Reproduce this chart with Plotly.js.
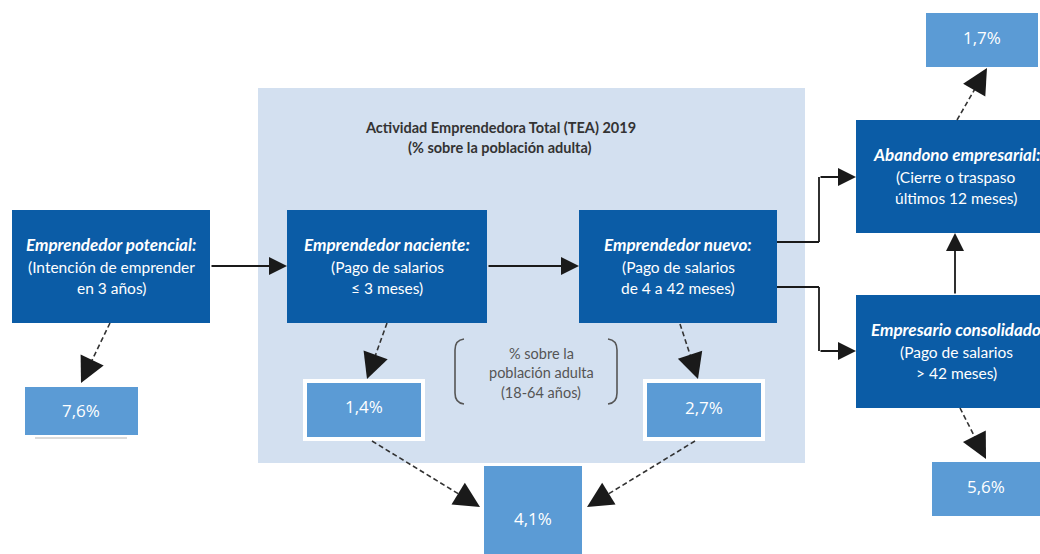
<!DOCTYPE html>
<html>
<head>
<meta charset="utf-8">
<script src="https://cdn.plot.ly/plotly-3.0.1.min.js"></script>
<style>html,body{margin:0;padding:0;background:#fff;}#chart{width:1040px;height:554px;}</style>
</head>
<body>
<div id="chart"></div>
<script>
// ---- data ----
const panelTitle = ['Actividad Emprendedora Total (TEA) 2019', '(% sobre la población adulta)'];
const stageTitles = ['Emprendedor potencial:', 'Emprendedor naciente:', 'Emprendedor nuevo:', 'Abandono empresarial:', 'Empresario consolidado'];
const stageNotes = [
  ['(Intención de emprender', 'en 3 años)'],
  ['(Pago de salarios', '≤ 3 meses)'],
  ['(Pago de salarios', 'de 4 a 42 meses)'],
  ['(Cierre o traspaso', 'últimos 12 meses)'],
  ['(Pago de salarios', '> 42 meses)']
];
const valueNames = ['Potencial', 'Naciente', 'Nuevo', 'TEA', 'Abandono', 'Consolidado'];
const values = [7.6, 1.4, 2.7, 4.1, 1.7, 5.6];
const bracketNote = ['% sobre la', 'población adulta', '(18-64 años)'];

// ---- layout geometry (pixel coordinates on axes) ----
const G = {
  panel: [258, 88, 805, 463],
  stages: [[12,210,210,323],[287,210,487,323],[579,210,777,323],[856,120,1056,233],[856,295,1056,408]],
  valBoxes: [[25,387,138,435],[305,381,423,439],[645,381,763,439],[484,466,582,556],[926,13,1038,67],[932,462,1040,516]],
  valText: [[81,410],[364,406],[704,407],[533,518],[982,37],[986,486]],
  valBorder: [false, true, true, false, false, false],
  solid: [
    [[210,266],[287,266]],
    [[487,266],[579,266]],
    [[777,242],[819,242],[819,177],[856,177]],
    [[777,287],[819,287],[819,351],[856,351]],
    [[955,295],[955,233]]
  ],
  dashed: [
    [[110,323],[81,383]],
    [[387,323],[367,379]],
    [[680,324],[698,379]],
    [[372,441],[480,507]],
    [[695,441],[587,507]],
    [[957,120],[987,68]],
    [[960,408],[986,459]]
  ]
};

const dark = '#0b5ca6', light = '#5b9bd5', panelCol = '#d3e0f0';
const fmt = v => v.toFixed(1).replace('.', ',') + '%';
const shapes = [], ann = [];

shapes.push({type:'rect', xref:'x', yref:'y', x0:G.panel[0], y0:G.panel[1], x1:G.panel[2], y1:G.panel[3], fillcolor:panelCol, line:{width:0}, layer:'below'});

G.stages.forEach((b, i) => {
  shapes.push({type:'rect', xref:'x', yref:'y', x0:b[0], y0:b[1], x1:b[2], y1:b[3], fillcolor:dark, line:{width:0}});
  const cx = (b[0]+b[2])/2, cy = (b[1]+b[3])/2;
  ann.push({x:cx, y:cy-22, xref:'x', yref:'y', text:'<b><i>'+stageTitles[i]+'</i></b>', showarrow:false, font:{family:'Lato', size:17, color:'#fff'}});
  ann.push({x:cx, y:cy+0.5, xref:'x', yref:'y', text:stageNotes[i][0], showarrow:false, font:{family:'Lato', size:15.5, color:'#fff'}});
  ann.push({x:cx, y:cy+21.5, xref:'x', yref:'y', text:stageNotes[i][1], showarrow:false, font:{family:'Lato', size:15.5, color:'#fff'}});
});

values.forEach((v, i) => {
  const b = G.valBoxes[i];
  shapes.push({type:'rect', xref:'x', yref:'y', x0:b[0], y0:b[1], x1:b[2], y1:b[3], fillcolor:light,
    line: G.valBorder[i] ? {color:'#fff', width:4} : {width:0}});
  ann.push({x:G.valText[i][0], y:G.valText[i][1], xref:'x', yref:'y', text:fmt(v), showarrow:false,
    font:{family:'Open Sans', size:17, color:'#fff'}});
});
// faint underline below first value box
shapes.push({type:'line', xref:'x', yref:'y', x0:35, y0:438, x1:127, y1:438, line:{color:'#cfcfcf', width:1.5}});

// panel title
ann.push({x:500, y:127, xref:'x', yref:'y', text:'<b>'+panelTitle[0]+'</b>', showarrow:false, font:{family:'Lato', size:14.5, color:'#333'}});
ann.push({x:500, y:147, xref:'x', yref:'y', text:'<b>'+panelTitle[1]+'</b>', showarrow:false, font:{family:'Lato', size:14.5, color:'#333'}});

// bracket note
bracketNote.forEach((t, i) => {
  ann.push({x:541, y:353+i*19.5, xref:'x', yref:'y', text:t, showarrow:false, font:{family:'Lato', size:14.5, color:'#555'}});
});
shapes.push({type:'path', xref:'x', yref:'y', path:'M 464 339 Q 455 340 455 350 L 455 393 Q 455 403 464 404', line:{color:'#555', width:1.6}});
shapes.push({type:'path', xref:'x', yref:'y', path:'M 608 339 Q 617 340 617 350 L 617 393 Q 617 403 608 404', line:{color:'#555', width:1.6}});

// solid connectors
G.solid.forEach(pts => {
  for (let k = 0; k < pts.length - 2; k++) {
    shapes.push({type:'line', xref:'x', yref:'y', x0:pts[k][0], y0:pts[k][1], x1:pts[k+1][0], y1:pts[k+1][1], line:{color:'#1a1a1a', width:1.8}});
  }
  const a = pts[pts.length-2], b = pts[pts.length-1];
  ann.push({x:b[0], y:b[1], ax:a[0], ay:a[1], xref:'x', yref:'y', axref:'x', ayref:'y', text:'', showarrow:true,
    arrowhead:2, arrowsize:2, arrowwidth:1.8, arrowcolor:'#1a1a1a', standoff:0});
});

// dashed connectors
G.dashed.forEach(([a, b]) => {
  const dx = b[0]-a[0], dy = b[1]-a[1], L = Math.hypot(dx, dy);
  const ux = dx/L, uy = dy/L;
  shapes.push({type:'line', xref:'x', yref:'y', x0:a[0], y0:a[1], x1:b[0]-ux*12, y1:b[1]-uy*12, line:{color:'#333', width:1.6, dash:'5px,3px'}});
  ann.push({x:b[0], y:b[1], ax:b[0]-ux*14, ay:b[1]-uy*14, xref:'x', yref:'y', axref:'x', ayref:'y', text:'', showarrow:true,
    arrowhead:2, arrowsize:3.2, arrowwidth:1.6, arrowcolor:'#1a1a1a', standoff:0});
});

const layout = {
  width:1040, height:554, margin:{l:0, r:0, t:0, b:0},
  paper_bgcolor:'#fff', plot_bgcolor:'#fff', showlegend:false,
  xaxis:{range:[0,1040], visible:false, fixedrange:true},
  yaxis:{range:[554,0], visible:false, fixedrange:true},
  shapes:shapes, annotations:ann
};
Plotly.newPlot('chart', [{x:[], y:[], type:'scatter', mode:'markers', hoverinfo:'skip'}], layout, {staticPlot:true, displayModeBar:false});
</script>
</body>
</html>
